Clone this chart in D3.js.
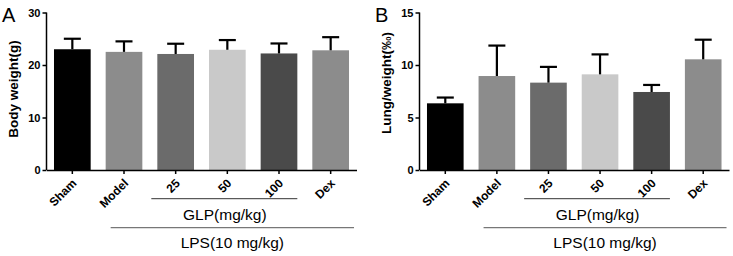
<!DOCTYPE html>
<html lang="en">
<head>
    <meta charset="UTF-8">
    <script src="https://cdn.jsdelivr.net/npm/d3@7"></script>
    <title>Body weight and lung index</title>
    <style>
        body { margin: 0; background: #fff; }
        svg { font-family: "Liberation Sans", Arial, sans-serif; }
        .tick text { font-weight: bold; }
    </style>
</head>
<body>
<svg width="733" height="256"></svg>

<script>
    const groups = ["Sham", "Model", "25", "50", "100", "Dex"];
    const colors = ["#000000", "#8c8c8c", "#6b6b6b", "#c9c9c9", "#4a4a4a", "#8c8c8c"];

    const bodyWeight = [23.0, 22.5, 22.1, 22.9, 22.2, 22.8];
    const bodyWeightErr = [2.0, 2.0, 1.95, 1.85, 1.9, 2.5];

    const lungIndex = [6.35, 8.95, 8.32, 9.11, 7.43, 10.54];
    const lungIndexErr = [0.55, 2.9, 1.5, 1.9, 0.67, 1.87];

    const bodyTicks = [0, 10, 20, 30];
    const lungTicks = [0, 5, 10, 15];

    const svg = d3.select("svg");

    function panel(opt) {
        const g = svg.append("g");

        const x = d3.scaleBand()
            .domain(groups)
            .range([opt.x0, opt.x1])
            .paddingInner(0.29)
            .paddingOuter(0.145);

        const y = d3.scaleLinear()
            .domain([0, opt.max])
            .range([170, 12.5]);

        // bars
        g.selectAll("rect.bar")
            .data(groups)
            .join("rect")
            .attr("class", "bar")
            .attr("x", d => x(d))
            .attr("width", x.bandwidth())
            .attr("y", (d, i) => y(opt.values[i]))
            .attr("height", (d, i) => y(0) - y(opt.values[i]))
            .attr("fill", (d, i) => colors[i]);

        // upper error bars
        const eb = g.selectAll("g.err")
            .data(groups)
            .join("g")
            .attr("class", "err")
            .attr("stroke", "#000")
            .attr("stroke-width", 2.2);
        eb.append("line")
            .attr("x1", d => x(d) + x.bandwidth() / 2)
            .attr("x2", d => x(d) + x.bandwidth() / 2)
            .attr("y1", (d, i) => y(opt.values[i]))
            .attr("y2", (d, i) => y(opt.values[i] + opt.errs[i]));
        eb.append("line")
            .attr("x1", d => x(d) + x.bandwidth() / 2 - 8.5)
            .attr("x2", d => x(d) + x.bandwidth() / 2 + 8.5)
            .attr("y1", (d, i) => y(opt.values[i] + opt.errs[i]))
            .attr("y2", (d, i) => y(opt.values[i] + opt.errs[i]));

        // y axis
        const ya = g.append("g")
            .attr("transform", `translate(${opt.x0},0)`)
            .call(d3.axisLeft(y).tickValues(opt.ticks).tickSize(4).tickPadding(2));
        ya.select(".domain").attr("stroke-width", 1.5).attr("d", `M0,${y(opt.max)}V${y(0)}`);
        ya.selectAll(".tick line").attr("stroke-width", 1.5);
        ya.selectAll(".tick text").attr("fill", "#000").attr("font-size", 11);

        // x axis
        const xa = g.append("g")
            .attr("transform", `translate(0,${y(0)})`)
            .call(d3.axisBottom(x).tickSize(4).tickSizeOuter(0));
        xa.select(".domain").attr("stroke-width", 1.5);
        xa.selectAll(".tick line").attr("stroke-width", 1.5);
        xa.selectAll(".tick text")
            .attr("fill", "#000")
            .attr("font-size", 12)
            .attr("text-anchor", "end")
            .attr("dy", null)
            .attr("y", 0)
            .attr("transform", "translate(5,14) rotate(-45)");

        // y title
        g.append("text")
            .attr("transform", `translate(${opt.titleX},${opt.titleY}) rotate(-90)`)
            .attr("text-anchor", "middle")
            .attr("font-size", 13.5)
            .attr("font-weight", "bold")
            .text(opt.title);

        // panel letter
        g.append("text")
            .attr("x", opt.letterX)
            .attr("y", 22)
            .attr("font-size", 20)
            .text(opt.letter);

        // group brackets
        const glpL = x("25") - 6, glpR = x("100") + x.bandwidth();
        g.append("line")
            .attr("x1", glpL).attr("x2", glpR)
            .attr("y1", 198.7).attr("y2", 198.7)
            .attr("stroke", "#333").attr("stroke-width", 1);
        g.append("text")
            .attr("x", (glpL + glpR) / 2 + 0.5)
            .attr("y", 220)
            .attr("text-anchor", "middle")
            .attr("font-size", 15.5)
            .text("GLP(mg/kg)");

        const lpsL = x("Model") + 5, lpsR = x("Dex") + x.bandwidth() + 5;
        g.append("line")
            .attr("x1", lpsL).attr("x2", lpsR)
            .attr("y1", 227.7).attr("y2", 227.7)
            .attr("stroke", "#777").attr("stroke-width", 1.2);
        g.append("text")
            .attr("x", (lpsL + lpsR) / 2)
            .attr("y", 248)
            .attr("text-anchor", "middle")
            .attr("font-size", 15.5)
            .text("LPS(10 mg/kg)");
    }

    panel({
        x0: 46.5, x1: 356.5, max: 30, ticks: bodyTicks,
        values: bodyWeight, errs: bodyWeightErr,
        title: "Body weight(g)", titleX: 18, titleY: 89,
        letter: "A", letterX: 2
    });

    panel({
        x0: 419.5, x1: 729, max: 15, ticks: lungTicks,
        values: lungIndex, errs: lungIndexErr,
        title: "Lung/weight(‰)", titleX: 391, titleY: 83,
        letter: "B", letterX: 375
    });
</script>
</body>
</html>
